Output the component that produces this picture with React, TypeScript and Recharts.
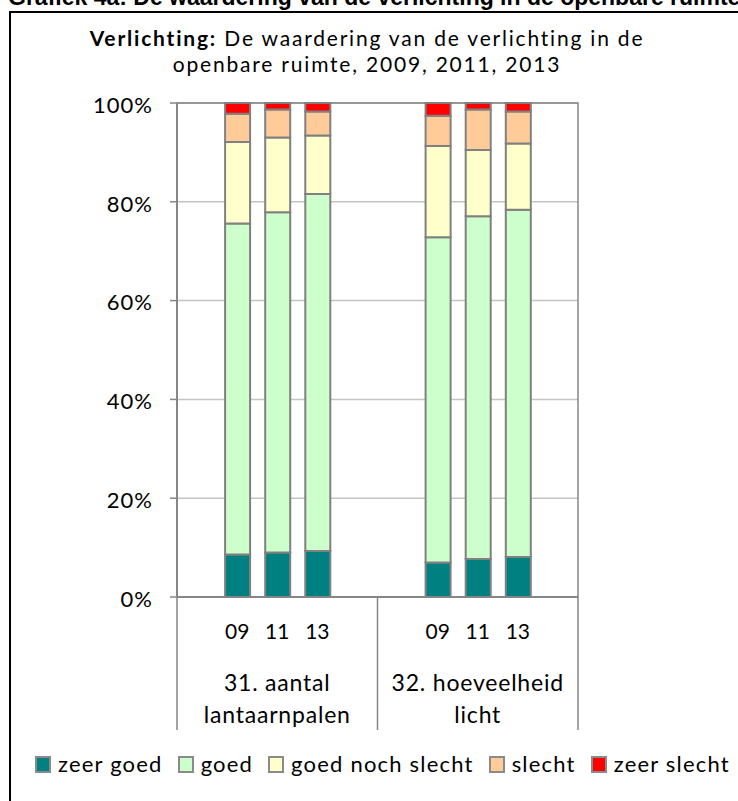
import React from "react";
import { BarChart, Bar, XAxis, YAxis, CartesianGrid, ReferenceArea } from "recharts";

const YEARS = ["09", "11", "13"];
const GROUP_LABELS = [
  ["31. aantal", "lantaarnpalen"],
  ["32. hoeveelheid", "licht"],
];
const SERIES_NAMES = ["zeer goed", "goed", "goed noch slecht", "slecht", "zeer slecht"];
const SERIES_COLORS = ["#008080", "#ccffcc", "#ffffcc", "#ffcc99", "#ff0000"];

// one value per bar: 31 (09, 11, 13), then 32 (09, 11, 13), in %
const ZEER_GOED = [8.6, 9.0, 9.3, 7.0, 7.7, 8.1];
const GOED = [67.0, 68.9, 72.3, 65.8, 69.4, 70.3];
const NOCH = [16.5, 15.1, 11.8, 18.5, 13.4, 13.4];
const SLECHT = [5.7, 5.7, 4.9, 6.1, 8.2, 6.5];
const ZEER_SLECHT = [2.2, 1.3, 1.7, 2.6, 1.3, 1.7];
const SERIES_VALUES = [ZEER_GOED, GOED, NOCH, SLECHT, ZEER_SLECHT];

const Y_TICKS = [0, 20, 40, 60, 80, 100];

const FONT = "Lato, 'Noto Sans', sans-serif";
const GRAY = "#868686";

const W = 738;
const H = 801;
const PLOT_LEFT = 177;
const PLOT_RIGHT = 578;
const PLOT_TOP = 103;
const PLOT_BOTTOM = 597;
const Y_AXIS_W = 90;
const X_AXIS_H = 150;

// Excel-style multi-level axis: an empty slot before and after each group
const rows: any[] = [];
GROUP_LABELS.forEach((_, gi) => {
  rows.push({ id: `g${gi}-pre`, year: "", group: gi, pos: "pre" });
  YEARS.forEach((yr, yi) => {
    const row: any = { id: `g${gi}-${yr}`, year: yr, group: gi, pos: yi === 1 ? "mid" : "" };
    SERIES_NAMES.forEach((n, si) => {
      row[n] = SERIES_VALUES[si][gi * YEARS.length + yi];
    });
    rows.push(row);
  });
  rows.push({ id: `g${gi}-post`, year: "", group: gi, pos: "post" });
});

const CategoryTick = ({ x, y, payload, index }: any) => {
  const i = payload?.index ?? index;
  const row = rows[i];
  const half = (PLOT_RIGHT - PLOT_LEFT) / rows.length / 2;
  const txt = { fontFamily: FONT, fill: "#000", textAnchor: "middle" as const };
  return (
    <g>
      {row.year && (
        <text x={x} y={y + 42} fontSize={21} {...txt}>
          {row.year}
        </text>
      )}
      {row.pos === "mid" &&
        GROUP_LABELS[row.group].map((line, li) => (
          <text key={li} x={x} y={y + 94 + li * 32} fontSize={23} letterSpacing={0.8} {...txt}>
            {line}
          </text>
        ))}
      {i === 0 && <line x1={x - half} x2={x - half} y1={y} y2={y + 133} stroke={GRAY} strokeWidth={1.5} />}
      {row.pos === "post" && (
        <line x1={x + half} x2={x + half} y1={y} y2={y + 133} stroke={GRAY} strokeWidth={1.5} />
      )}
    </g>
  );
};

export default function App() {
  return (
    <div
      style={{
        position: "absolute",
        left: 0,
        top: 0,
        width: W,
        height: H,
        overflow: "hidden",
        background: "#fff",
        fontFamily: FONT,
      }}
    >
      {/* caption of the report, cut off by the crop */}
      <div
        style={{
          position: "absolute",
          left: 8,
          top: -16,
          whiteSpace: "nowrap",
          fontFamily: "'Liberation Sans', Arial, sans-serif",
          fontWeight: 700,
          fontSize: 23,
        }}
      >
        Grafiek 4a: De waardering van de verlichting in de openbare ruimte in 2009, 2011 en 2013
      </div>
      {/* chart frame */}
      <div
        style={{
          position: "absolute",
          left: 9,
          top: 11,
          width: W + 20,
          height: H + 20,
          borderLeft: "2px solid #000",
          borderTop: "2px solid #000",
        }}
      />
      <div
        style={{
          position: "absolute",
          left: 0,
          width: 734,
          top: 25,
          textAlign: "center",
          fontSize: 21,
          letterSpacing: 1.8,
          lineHeight: "26px",
          color: "#000",
        }}
      >
        <div>
          <b>Verlichting:</b> De waardering van de verlichting in de
        </div>
        <div>openbare ruimte, 2009, 2011, 2013</div>
      </div>

      <div style={{ position: "absolute", left: 0, top: 0 }}>
        <BarChart
          width={W}
          height={H}
          data={rows}
          barSize={25}
          margin={{
            top: PLOT_TOP,
            right: W - PLOT_RIGHT,
            left: PLOT_LEFT - Y_AXIS_W,
            bottom: H - PLOT_BOTTOM - X_AXIS_H,
          }}
        >
          <CartesianGrid vertical={false} stroke="#c4c4c4" strokeWidth={1.5} />
          <ReferenceArea y1={0} y2={100} fill="none" stroke={GRAY} strokeWidth={1.5} />
          <XAxis
            dataKey="id"
            interval={0}
            height={X_AXIS_H}
            tickSize={0}
            tickMargin={0}
            tickLine={false}
            axisLine={{ stroke: GRAY, strokeWidth: 2 }}
            tick={<CategoryTick />}
          />
          <YAxis
            domain={[0, 100]}
            ticks={Y_TICKS}
            width={Y_AXIS_W}
            tickSize={7}
            tickMargin={17}
            tickFormatter={(v) => `${v}%`}
            axisLine={{ stroke: GRAY, strokeWidth: 2 }}
            tickLine={{ stroke: GRAY, strokeWidth: 1.5 }}
            tick={{ fontFamily: FONT, fontSize: 22, letterSpacing: 1, fill: "#000", dy: 2 }}
          />
          {SERIES_NAMES.map((n, si) => (
            <Bar
              key={n}
              dataKey={n}
              stackId="a"
              fill={SERIES_COLORS[si]}
              stroke="#808080"
              strokeWidth={2}
              isAnimationActive={false}
            />
          ))}
        </BarChart>
      </div>

      {/* legend */}
      <div
        style={{
          position: "absolute",
          left: 35,
          top: 749,
          width: 700,
          display: "flex",
          alignItems: "center",
          whiteSpace: "nowrap",
          fontSize: 22,
          letterSpacing: 1.2,
          lineHeight: "30px",
          color: "#000",
        }}
      >
        {SERIES_NAMES.map((n, si) => (
          <div key={n} style={{ display: "flex", alignItems: "center", flexShrink: 0, marginRight: 15 }}>
            <span
              style={{
                display: "inline-block",
                flexShrink: 0,
                width: 12,
                height: 13,
                background: SERIES_COLORS[si],
                border: "2px solid #8a8a8a",
                marginRight: 7,
              }}
            />
            <span>{n}</span>
          </div>
        ))}
      </div>
    </div>
  );
}
